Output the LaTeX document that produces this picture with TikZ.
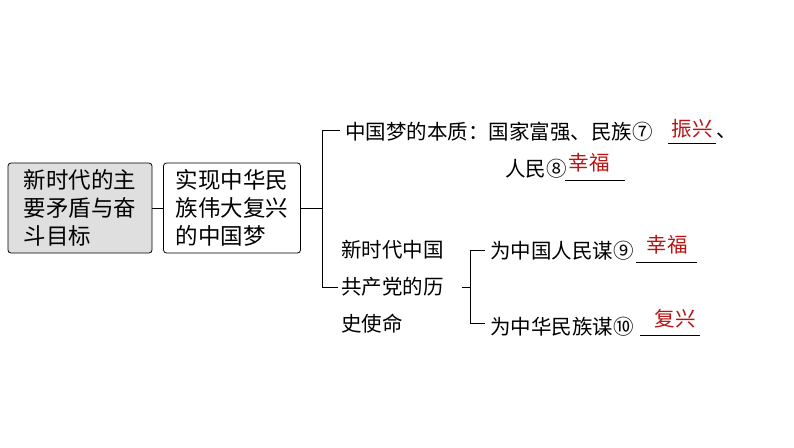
\documentclass[tikz,border=0pt]{standalone}
\usepackage{fontspec}
\setmainfont{Noto Sans CJK SC}
\usetikzlibrary{positioning}
\definecolor{ansred}{RGB}{185,20,20}
\tikzset{
  box/.style={draw, rounded corners=3pt, minimum width=137pt, minimum height=90pt, inner sep=2pt, align=left, font=\fontsize{22.5}{28}\selectfont, line width=0.8pt},
  txt/.style={anchor=west, inner sep=0pt, font=\fontsize{20.5}{25}\selectfont},
  ans/.style={inner sep=0pt, text=ansred, font=\fontsize{20.5}{22}\selectfont},
  blank/.style={line width=0.6pt}
}
\begin{document}
\begin{tikzpicture}[x=1pt,y=-1pt]
    \useasboundingbox (0,0) rectangle (794,447);

    % the two boxes
    \node[box, fill=gray!25, minimum width=144pt] (era) at (80,208) {新时代的主\\要矛盾与奋\\斗目标};
    \node[box] (dream) at (232,208) {实现中华民\\族伟大复兴\\的中国梦};
    \draw (era) -- (dream);

    % first bracket
    \coordinate (b1) at (322,208);
    \draw (dream.east) -- (b1);
    \draw (340,130) -| (322,287) -- (338,287);
    \node[txt] (essence) at (345,132) {中国梦的本质：国家富强、民族⑦};
    \node[txt] (comma) at (716,136) {、};
    \node[txt] (people) at (505,169) {人民⑧};
    \node[txt, align=left, font=\fontsize{20.5}{37}\selectfont] (mission) at (341,287) {新时代中国\\共产党的历\\史使命};

    % answers on blanks
    \draw[blank] (668,143) -- (716,143);
    \node[ans] (a7) at (692,129) {振兴};
    \draw[blank] (565,180) -- (625,180);
    \node[ans] (a8) at (589,163) {幸福};

    % second bracket
    \draw (462,287) -- (470,287);
    \draw (485,250) -| (470,323) -- (485,323);
    \node[txt] (cpc1) at (490,251) {为中国人民谋⑨};
    \node[txt] (cpc2) at (490,327) {为中华民族谋⑩};
    \draw[blank] (636,262) -- (697,262);
    \node[ans] (a9) at (667,245) {幸福};
    \draw[blank] (640,335) -- (700,335);
    \node[ans] (a10) at (675,319) {复兴};
\end{tikzpicture}
\end{document}
